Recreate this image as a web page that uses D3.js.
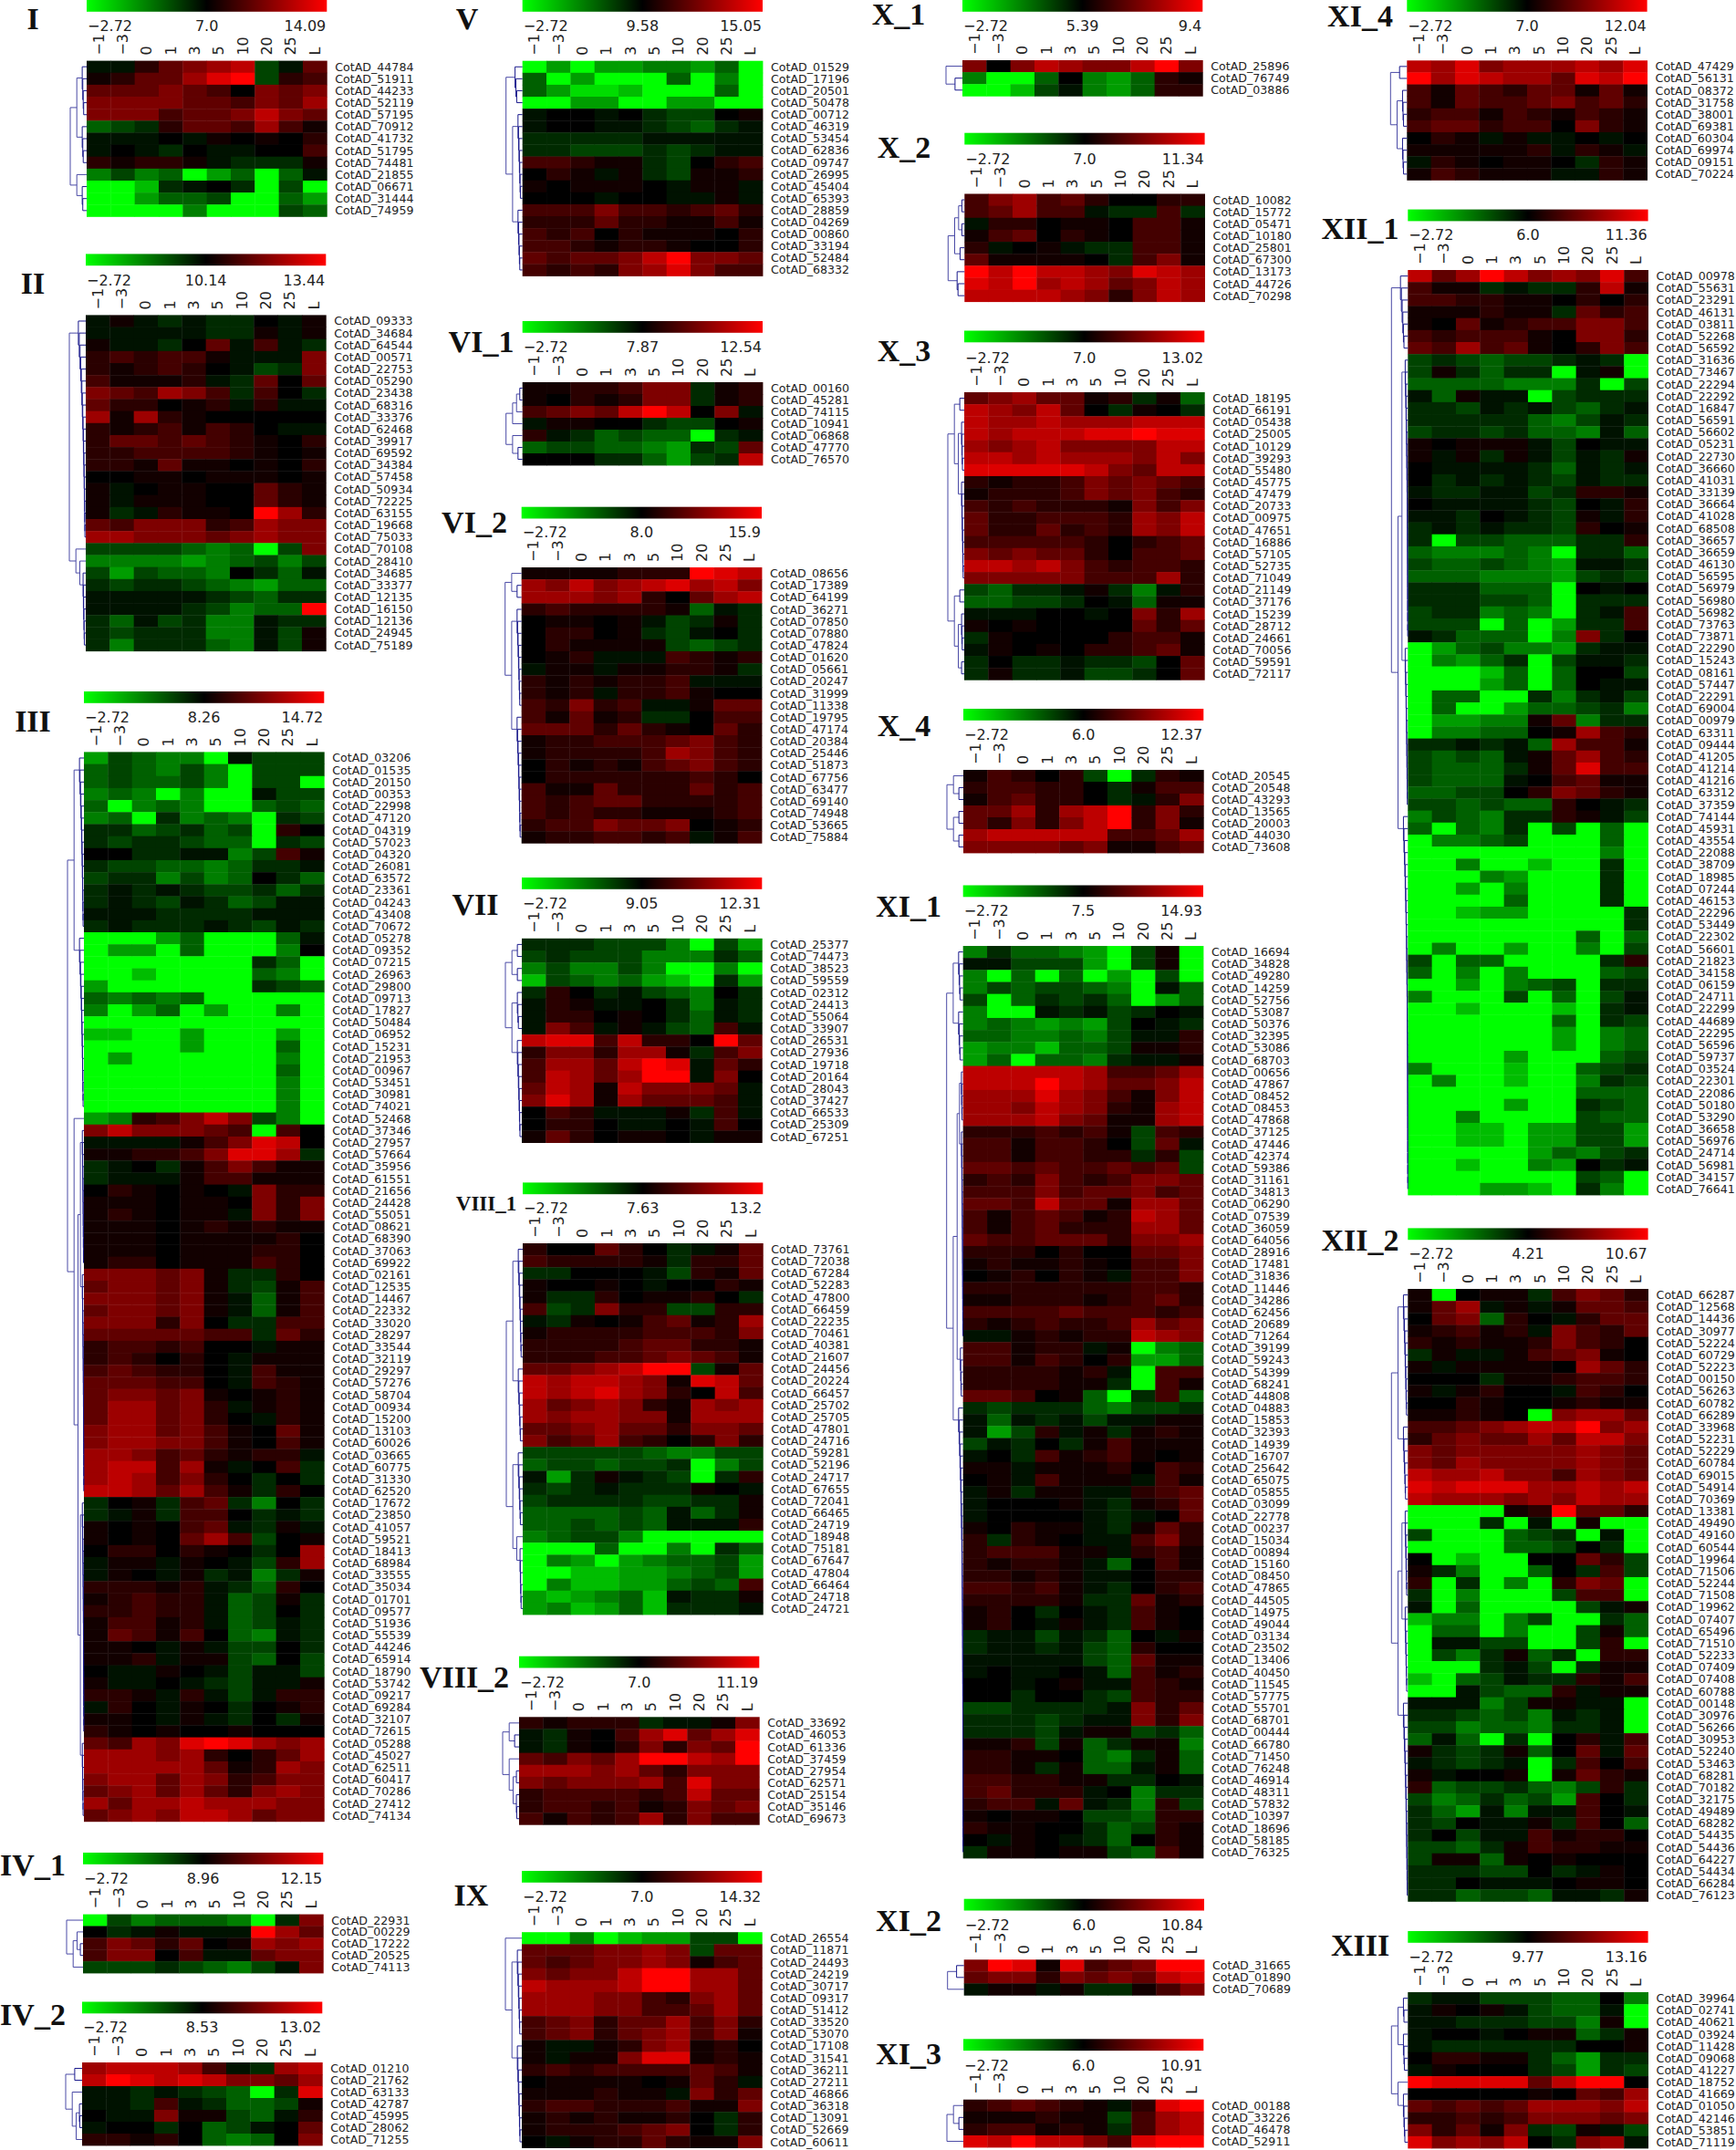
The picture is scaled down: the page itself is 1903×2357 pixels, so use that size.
<!DOCTYPE html>
<html>
<head>
<meta charset="utf-8">
<script src="https://d3js.org/d3.v7.min.js"></script>
<style>
  body { margin: 0; background: #fff; }
  text { font-family: "DejaVu Sans", sans-serif; fill: #222; }
</style>
</head>
<body>
<div id="chart-area"></div>
<script>
// one char per cell: a (bright green) .. i, 0 (black), 1 .. 9 (bright red)
const timePoints = ["\u22121", "\u22123", "0", "1", "3", "5", "10", "20", "25", "L"];
const levelChars = "abcdefghi0123456789";

const genesI = "44784 51911 44233 52119 57195 70912 41732 51795 74481 21855 06671 31444 74959".split(" ");
const valsI = "ii24567gi4 1244689g23 4445430545 5555443546 5553445754 fgh2443631 iii0i10102 i0ih0ii003 21221ihhh1 egefadfafi aachi0haga aadffgaafd aaaaeaaagf".split(" ");

const genesII = "09333 34684 64544 00571 22753 05290 23438 68316 33376 62468 39917 69592 34384 57458 50934 72225 63155 19668 75033 70108 28410 34685 33377 12135 16150 12136 24945 75189".split(" ");
const valsII = "i1ihihh0i1 iiiiihh1i1 1iih04i3ih 232331iii5 212320igh5 31112ih404 543653h30h 422012i2ii 6162100000 21231320ii 2443432102 2233332101 2214110102 0011011101 1i01100421 1i11100421 1hi2110962 4355523655 6655545655 ggggfefag5 eeeedefgeg gdgffe0hfi hghhgfedff iiiiihgfhh iiiihgeff9 hfigheeihh hghhheeig1 hehhhfeig1".split(" ");

const genesIII = "03206 01535 20150 00353 22998 47120 04319 57023 04320 26081 63572 23361 04243 43408 70672 05278 09352 07215 26963 29800 09713 17827 50484 06952 15231 21953 00967 53451 30981 74021 52468 37346 27957 57664 35956 61551 21656 24428 55051 08621 68390 37063 69922 02161 12535 14467 22332 33020 28297 33544 32119 29297 57276 58704 00934 15200 13103 60026 03665 60775 31330 62520 17672 23850 41057 59521 18413 68984 33555 35034 01701 09577 51936 55539 44246 65914 18790 53742 09217 69284 32107 72615 05288 45027 62511 60417 70286 27412 74134".split(" ");
const valsIII = "dgfeeaiggg fgfegeaggg fgffgeagga efeaeaaigg faefeaafgf efahefeahg hhfghfga20 hghhgffahg 00hhiieg31 hggffefhhi ghhegef0hf hihihgghfh hihgihfgii iiihhhhiii hihhhihgih aaadfaaafi addafaaae0 aaaaaaahfa aacaaaafea daaaaaahgf fefefaaaaa eadfadaaea aaaaaaaaaa ccaadaaada aaaadaaafa adaaaaaaea aaaaaaaafa aaaaaaaaea aaaaaaaaea aaaaaaaaea de23575gea 5755543a30 iiii135870 112235886h hi0h135311 hiii133111 021010i522 1110110525 121011i525 1110121211 1110111120 1110111220 1220111320 555451hh20 455451hg13 555451if13 455451if13 555250hh33 4444433h42 2332300i11 232020i111 343220i311 444330i321 4554510121 466452i121 4664520i21 5664531041 5665531031 665342122i 677361i03h 6763520h0h 7764631h20 h01h34he0h hi1h330hih 101034ih1i 1010463g01 0220210h06 i11i10ig26 i10i1hieh1 22212ihf20 12322ifg1h 22322ifg0h 13312ifgih 143130feih 110i1igg0h 112i11gf0g 0ii10igiig 1ii0ihgii1 221i2igi22 i20i10h012 110i1ih0h1 2101001000 4365898656 6665620246 6666641265 5664652355 4564642565 6466766655 4565776455".split(" ");

const genesIV1 = "22931 00229 17222 20525 74113".split(" ");
const valsIV1 = "agefffeah5 0hi1iii964 3542401656 35503ii455 ggghgfegi5".split(" ");

const genesIV2 = "01210 21762 63133 42787 45995 28062 71255".split(" ");
const valsIV2 = "677763ih67 7987875546 iihihgfah8 iih3ihffg1 0ii511gfi2 i00h0fgi04 22120fef05".split(" ");

const genesV = "01529 17196 20501 50478 00712 46319 53454 62836 09747 26995 45404 65393 28859 04269 00860 33194 52484 68332".split(" ");
const valsV = "adaddeedfa fadaaafaea fdbbcaaafa aaddaaddaa i00i0hgg01 i00iihgfhi hhhhhiiiii hhggghghii 33211hg023 021i1hg112 101110i11i 000i00ii1i 3335332342 2224221131 3230211102 3321221002 4344579554 3232568533".split(" ");

const genesVI1 = "00160 45281 74115 10941 06868 47770 76570".split(" ");
const valsVI1 = "1122355h12 1021255h12 345479705i i1100hgg01 2ihfgffahi fggffedhg4 000hhfdgh7".split(" ");

const genesVI2 = "08656 17389 64199 36271 07850 07880 47824 01620 05661 20247 31999 11338 19795 47174 20384 25446 51873 67756 63477 69140 74948 53665 75884".split(" ");
const valsVI2 = "1111222987 6575678675 6665620467 2322221fih 01101igh1h 02201hgi0h 021111gfgh 012iii3212 i11i11221h 2121223iii 212i223100 32523ii144 31412hh033 4442421042 1223334532 1222236532 0212134532 0222222320 3114222423 3234422223 3232211123 2335445012 1223323i13".split(" ");

const genesVII = "25377 74473 38523 59559 02312 24413 55064 33907 26531 27936 19718 20164 28043 37427 66533 25309 67251".split(" ");
const valsVII = "hhhgggeagd ghgggeeehf egeegeaaea cgfefdcahd h20higfe0h i21ii0heih i22010hfih i53i1igf3i 7883722094 2552661h35 3664798i42 3764699i50 476175554i 586164443i 032iii1h3i 0220ii0i30 1420110i11".split(" ");

const genesVIII1 = "73761 72038 67284 52283 47800 66459 22235 70461 40381 21607 24456 20224 66457 25702 25705 47801 24716 59281 52196 24717 67655 72041 66465 24719 18948 75181 67647 47804 66464 24718 24721".split(" ");
const valsVIII1 = "200420hi14 322221h224 hh000ig214 10010i0021 1hh201120h 3gh522gg22 ih10134126 1222233325 2222344221 2223345431 4456799g14 7677651874 7678652073 6456521656 6566551666 4456442554 5346320252 gggggfeegg fggfgghaeg idh1ihgah2 hghihhh10i ghhhhgghh1 ffffgfifh1 ffgfgfiii2 efggeaaaaa aaafaaeahf aedadeffgd aaccddefgd aeccddfgf3 dcdefcihh1 decdfchhhi".split(" ");

const genesVIII2 = "33692 46053 61336 37459 27954 62571 25154 35146 69673".split(" ");
const valsVIII2 = "21222hii15 ih10368468 ih10252549 4354699769 6665642555 5455563855 2333323744 2332312545 3132362533".split(" ");

const genesIX = "26554 11871 24493 24219 30717 09317 51412 33520 53070 17108 31541 36211 27211 46866 36318 13091 52669 60611".split(" ");
const valsIX = "aaeacddgga 4445565g44 4345565134 5455799664 7666799664 6665532564 6665533464 3452446352 3452456351 1ii1256120 1i11588121 2323333431 011110142i 111211i524 2332223115 12121120h2 12223450h2 0i12242115".split(" ");

const genesX1 = "25896 76749 03886".split(" ");
const valsX1 = "5057655795 eaaf0edf21 aacgiedf22".split(" ");

const genesX2 = "10082 15772 05471 10180 25801 67300 13173 44726 70298".split(" ");
const valsX2 = "3563420022 34633ihh3h i220110331 1340210331 2i01ihh331 411110h351 9797765876 8796764576 7777652576".split(" ");

const genesX3 = "18195 66191 05438 25005 10129 39293 55480 45775 47479 20733 00975 47651 16886 57105 52735 71049 21149 37176 15239 28712 24661 70056 59591 72117".split(" ");
const valsX3 = "4564412h1f 765740h10h 7667666777 7677788988 6567555577 7767666575 8888875477 2122354543 1222354532 3232221535 4223332657 4224232657 3333320234 5454420334 7767532332 5555533362 gfhhi1hei2 ffggh0if11 iii00i0526 1010000424 h100002331 i101022341 h0hhihhg04 h1hhiggh04".split(" ");

const genesX4 = "20545 20548 43293 13565 20003 44030 73608".split(" ");
const valsX4 = "13202gah21 233220h133 134220hi25 4462679252 4252579251 6777773346 5555451134".split(" ");

const genesXI1 = "16694 34828 49280 14259 52756 53087 50376 32395 53086 68703 00656 47867 08452 08453 47868 37125 47446 42374 59386 31161 34813 06290 07539 36059 64056 28916 17481 31836 11446 34286 62456 20689 71264 39199 59243 54399 68241 44808 04883 15853 32393 14939 16707 25642 65075 05855 03099 22778 00237 15034 00894 15160 08450 47865 44505 14975 49044 03134 23502 13406 40450 11545 57775 55701 68701 00444 66780 71450 76248 46914 48311 57832 10397 18696 58185 76325".split(" ");
const valsXI1 = "ehffedag1a iigggdag1a eafafadaga egfggfeaif gafhghfadf eaaihigh0i efededg0ih ffeefegii2 deecffg112 dfaffehii1 7777763346 7779764457 6668653157 6657652167 6667541167 2223231g32 3313320g4i 3313322h2g 443433434g 2325323554 3335344534 4437441664 3134312764 3134222664 4334442556 2220200445 1211210335 012021i335 2222222332 1122212342 3333433323 2123223645 ii12122765 33122i1aef 3313202ddf 222212ia33 222211ha31 44301fah3f hghhhfeggh ifihigii11 idg2i1h121 gih0h13111 i0h3123101 11i1112032 01i3111i31 i1h11ii234 i0001ih124 i0000ihi04 10211ih142 2h210ii352 233311i231 21221if031 22121ii022 33231ih023 22221hh412 120h0ih310 120i1ih310 hiigihf0i1 hiihigf200 iiiiigf411 i0ii0if312 00i01ii321 00h00hg322 gghhhhi524 hhhghii525 hhhgi11ghf 112g1fh11e 22110feh1f 221h1ffi1f 332211hh0i 34222i0ehh 233i4ihe2g 10110ggf22 21100hfg21 0i10ihf021 h11011gf31".split(" ");

const genesXI2 = "31665 01890 70689".split(" ");
const valsXI2 = "5981834599 4552545478 i11i1hh135".split(" ");

const genesXI3 = "00188 33226 46478 52911".split(" ");
const valsXI3 = "234321i289 111211g367 233121h367 8797753899".split(" ");

const genesXI4 = "47429 56131 08372 31758 38001 69381 60304 69974 09151 70224".split(" ");
const valsXI4 = "7685666768 9687664879 3143244141 3143345342 2331321321 3442330521 021i1ii0i0 111112i21i i210110h21 132111ii21".split(" ");

const genesXII1 = "00978 55631 23291 46131 03811 52268 56592 31636 73467 22294 22292 16847 56591 56602 05231 22730 36660 41031 33139 36664 41028 68508 36657 36659 46130 56595 56979 56980 56982 73763 73871 22290 15243 08161 57447 22291 69004 00979 63311 09444 41205 41214 41216 63312 37359 74144 45931 43554 22088 38709 18985 07244 46153 22296 53449 22302 56601 21823 34158 06159 24711 22299 44689 22295 56596 59737 03524 22301 22086 50180 53290 36658 56976 24714 56981 34157 76641".split(" ");
const valsXII1 = "7469756583 311hihh271 3322110202 111211h423 1041233553 3233310552 4363410253 ghgfgghiha g1hfhhai1a ffffeeehag if1iiaghhh hhgihigfhi hhhhhfegih ghhghffeif 10111ig0ii 1i1h1igih1 0iiiihfihi 0hihihgihh ihhiigh221 0iiiihg0i2 iih0ihg1i2 hihihhg201 haggfffhh2 feeefeahhf gffgfediih fffeeedghg hhhfffa0i0 hhhggfahhh ghhefeahi3 gggafadhh3 ihfffae5h0 adfgeedhii aedfhagiih aaacfaf00g aaadfaf0ii affaahehig afaadffghe addee14ehh aeeff01632 hhihif6331 gfgfi14632 gfffh14833 gfffi03411 ffgg025421 ggfgff20ih egfehh21ig fafehagafa aeefgaaafa aaaaaaaaea aaeaacaaha aaaedaaaha aadaeaaaha aaaafaaaha aacddaaaah aaaaaaaaah aaaaaaafaf aeaadaaeag gaffaaaah2 faeaeaaafg aadaefgahh eaaagafagi aacaaacahi aaaaaafahg aaaaaadaef aaaaaadaef aaaadaaafg eaaacaafgh aeaacaaehg aaaaaaafff aaaadaahgf aaeaaaagff aaccaddggd aaccaddggd aaaaadfegh aacaaed0hi aaaaaaagfa aaaddcahea".split(" ");

const genesXII2 = "66287 12568 14436 30977 52224 60729 52223 00150 56263 60782 66289 33968 52231 52229 60784 69015 54914 70369 13381 49490 49160 60544 19964 71506 52244 71508 19962 07407 65496 71510 52233 07409 07408 60788 00148 30976 56266 30953 52240 53463 68281 70182 32175 49489 68282 54435 54436 64227 54434 66284 76123".split(" ");
const valsXII2 = "1a011h3542 146i1i1443 045f20i244 12312i5324 2121125320 h1ii134510 1i11110642 000h112332 1i1200i320 0021001211 11210a5664 3345677956 2454464775 5455555654 5465555654 7667553654 8788866767 7666565766 aaaa129442 aaahaia1aa gaaafghaia aaaaffg0ha 0acaa0042g 1heaaf0h3g 2ahaea254a haeaaag33a iafaaaagi1 ceeaegaahf affaeaag1f aiiggaag2a ageh1fha22 aaahigah11 cafgihh213 aaigff2i11 iiieg11iia hhgfgeihia ggeffehhia fifaha02i3 1hgh1f04i4 ihghiah303 1i001a1421 2fgghfeg2h gefhfgd30h hfdieii30i hg0ii1h30f h0gii31220 ggfh132211 g11f101000 hhhgg0hi10 hh0iii0110 hhfggfiih1".split(" ");

const genesXIII = "39964 02741 40621 03924 11428 09068 41227 18752 41669 01050 42146 53851 71119".split(" ");
const valsXIII = "hiigggff0e i101igffia iihhhgge1a i00i011fh1 ihhhhhh001 02211hfdhh i1000hgdhg 9888847990 0000010436 4343466657 2232355545 52415hg1ig 856570h56i".split(" ");

// tree = row clustering as nested groups, a number is a tight run of that many rows
const panels = [
  { name: "I", genes: genesI, vals: valsI, low: "\u22122.72", mid: "7.0", high: "14.09", x: 95, barY: 0, tickY: 28, top: 66.6, bottom: 237.4, titleX: 36, titleY: 20, tree: [[5, 4], [1, 3]] },
  { name: "II", genes: genesII, vals: valsII, low: "\u22122.72", mid: "10.14", high: "13.44", x: 94, barY: 278.4, tickY: 307, top: 345.4, bottom: 713.7, titleX: 36, titleY: 310, tree: [19, [1, [1, 7]]] },
  { name: "III", genes: genesIII, vals: valsIII, low: "\u22122.72", mid: "8.26", high: "14.72", x: 92, barY: 758, tickY: 786, top: 824.4, bottom: 1996.8, titleX: 36, titleY: 790, tree: [[15, 15], [1, [[12, 19], [20, 7]]]] },
  { name: "IV_1", genes: genesIV1, vals: valsIV1, low: "\u22122.72", mid: "8.96", high: "12.15", x: 91, barY: 2031, tickY: 2059.5, top: 2098.6, bottom: 2163, titleX: 36, titleY: 2044, tree: [1, [[1, 2], 1]] },
  { name: "IV_2", genes: genesIV2, vals: valsIV2, low: "\u22122.72", mid: "8.53", high: "13.02", x: 90, barY: 2194.5, tickY: 2222.5, top: 2261, bottom: 2352, titleX: 36, titleY: 2208, tree: [2, [1, [3, 1]]] },
  { name: "V", genes: genesV, vals: valsV, low: "\u22122.72", mid: "9.58", high: "15.05", x: 572.7, barY: 0, tickY: 28, top: 66.7, bottom: 302.5, titleX: 512, titleY: 20, tree: [4, [8, 6]] },
  { name: "VI_1", genes: genesVI1, vals: valsVI1, low: "\u22122.72", mid: "7.87", high: "12.54", x: 572.7, barY: 352, tickY: 380.6, top: 419, bottom: 510, titleX: 527.5, titleY: 374, tree: [[[2, 1], 1], [1, 2]] },
  { name: "VI_2", genes: genesVI2, vals: valsVI2, low: "\u22122.72", mid: "8.0", high: "15.9", x: 571.7, barY: 555.7, tickY: 583.6, top: 622, bottom: 924.3, titleX: 520, titleY: 572, tree: [[1, 2], [9, 11]] },
  { name: "VII", genes: genesVII, vals: valsVII, low: "\u22122.72", mid: "9.05", high: "12.31", x: 572, barY: 962, tickY: 990.4, top: 1028.8, bottom: 1252.6, titleX: 521, titleY: 991, tree: [[2, 2], [4, 9]] },
  { name: "VIII_1", genes: genesVIII1, vals: valsVIII1, low: "\u22122.72", mid: "7.63", high: "13.2", x: 573, barY: 1296.4, tickY: 1324.8, top: 1363, bottom: 1770, titleX: 533, titleY: 1319, titleSize: 23, tree: [[10, 7], [7, [1, 6]]] },
  { name: "VIII_2", genes: genesVIII2, vals: valsVIII2, low: "\u22122.72", mid: "7.0", high: "11.19", x: 569, barY: 1815.7, tickY: 1844.7, top: 1882.3, bottom: 2000.3, titleX: 509, titleY: 1838.6, tree: [[1, 2], [1, [2, 3]]] },
  { name: "IX", genes: genesIX, vals: valsIX, low: "\u22122.72", mid: "7.0", high: "14.32", x: 572, barY: 2051, tickY: 2079.6, top: 2118.2, bottom: 2354.6, titleX: 516.5, titleY: 2077.5, tree: [1, [8, 9]] },
  { name: "X_1", genes: genesX1, vals: valsX1, low: "\u22122.72", mid: "5.39", high: "9.4", x: 1055, barY: 0, tickY: 28, top: 66, bottom: 105.3, titleX: 985, titleY: 15, tree: [1, 2] },
  { name: "X_2", genes: genesX2, vals: valsX2, low: "\u22122.72", mid: "7.0", high: "11.34", x: 1057.3, barY: 145.7, tickY: 174.5, top: 212.5, bottom: 330.7, titleX: 991, titleY: 161, tree: [[[2, 2], 2], 3] },
  { name: "X_3", genes: genesX3, vals: valsX3, low: "\u22122.72", mid: "7.0", high: "13.02", x: 1057, barY: 362.5, tickY: 392, top: 430, bottom: 745.3, titleX: 991, titleY: 384.6, tree: [[2, [5, 9]], [2, [4, 2]]] },
  { name: "X_4", genes: genesX4, vals: valsX4, low: "\u22122.72", mid: "6.0", high: "12.37", x: 1056, barY: 777, tickY: 805, top: 844, bottom: 935, titleX: 991, titleY: 795, tree: [[1, 2], [2, 2]] },
  { name: "XI_1", genes: genesXI1, vals: valsXI1, low: "\u22122.72", mid: "7.5", high: "14.93", x: 1055.7, barY: 970.5, tickY: 998.6, top: 1037, bottom: 2037, titleX: 996, titleY: 993, tree: [[5, 5], [[[5, 18], 5], 38]] },
  { name: "XI_2", genes: genesXI2, vals: valsXI2, low: "\u22122.72", mid: "6.0", high: "10.84", x: 1056.7, barY: 2081.7, tickY: 2110, top: 2148.3, bottom: 2187.3, titleX: 996, titleY: 2105, tree: [2, 1] },
  { name: "XI_3", genes: genesXI3, vals: valsXI3, low: "\u22122.72", mid: "6.0", high: "10.91", x: 1056, barY: 2235.3, tickY: 2264, top: 2301.7, bottom: 2354, titleX: 996, titleY: 2251.7, tree: [[1, 2], 1] },
  { name: "XI_4", genes: genesXI4, vals: valsXI4, low: "\u22122.72", mid: "7.0", high: "12.04", x: 1542.3, barY: 0, tickY: 28, top: 66.3, bottom: 197.4, titleX: 1491, titleY: 17, tree: [2, [4, 4]] },
  { name: "XII_1", genes: genesXII1, vals: valsXII1, low: "\u22122.72", mid: "6.0", high: "11.36", x: 1543.3, barY: 229.6, tickY: 257.6, top: 296, bottom: 1310, titleX: 1491, titleY: 250, tree: [7, [[24, 14], 32]] },
  { name: "XII_2", genes: genesXII2, vals: valsXII2, low: "\u22122.72", mid: "4.21", high: "10.67", x: 1543.3, barY: 1346.4, tickY: 1374.5, top: 1413, bottom: 2084.4, titleX: 1491, titleY: 1359, tree: [[11, 7], [[8, 8], 17]] },
  { name: "XIII", genes: genesXIII, vals: valsXIII, low: "\u22122.72", mid: "9.77", high: "13.16", x: 1543.3, barY: 2117, tickY: 2145.3, top: 2184, bottom: 2355, titleX: 1491, titleY: 2132, tree: [[3, 4], [1, 5]] }
];

let svgW = 1903;
let svgH = 2357;
let heatW = 263.3;
let barH = 12.8;
let treeW = 18;

let svg = d3.select("#chart-area")
  .append("svg")
  .attr("width", svgW)
  .attr("height", svgH)
  .style("display", "block");

const barColor = d3.scaleLinear()
  .domain([-9, 0, 9])
  .range(["#00ff00", "#000000", "#ff0000"]);

// cells read a bit darker than the bar at low levels
const intensity = d3.scalePow()
  .exponent(1.2)
  .domain([0, 9])
  .range([0, 255]);

const color = (level) => level < 0
  ? d3.rgb(0, intensity(-level), 0)
  : d3.rgb(intensity(level), 0, 0);

// colour bar gradient shared by every panel
let grad = svg.append("defs").append("linearGradient")
  .attr("id", "bar-grad");
grad.selectAll("stop")
  .data(d3.range(-9, 10, 3))
  .enter()
  .append("stop")
  .attr("offset", d => (d + 9) / 18)
  .attr("stop-color", d => barColor(d));

// number -> run of rows, array -> group
const expand = (spec) => {
  if (typeof spec === "number") {
    if (spec === 1) return { leaf: true };
    return { run: true, children: [{ leaf: true }, expand(spec - 1)] };
  }
  return { children: spec.map(expand) };
}

const drawTree = (g, p, y) => {
  let root = d3.hierarchy(expand(p.tree));
  let leaves = root.leaves();
  leaves.forEach((l, i) => { l.rowY = y(i) + y.bandwidth() / 2; });

  root.eachBefore(n => {
    if (!n.parent) n.dist = 1;
    else if (n.data.leaf) n.dist = 0;
    else if (n.data.run) n.dist = n.parent.data.run ? n.parent.dist * 0.88 : n.parent.dist * 0.45;
    else n.dist = n.parent.dist * 0.6;
  });
  root.eachAfter(n => {
    n.rowY = n.children ? (n.children[0].rowY + n.children[n.children.length - 1].rowY) / 2 : n.rowY;
  });

  const dx = d3.scaleLinear().domain([0, 1]).range([0, -treeW]);

  g.selectAll("path.link")
    .data(root.descendants().filter(n => n.children))
    .enter()
    .append("path")
    .attr("class", "link")
    .attr("fill", "none")
    .attr("stroke", d => d.data.run ? "#1a1a8c" : "#4a4aa6")
    .attr("stroke-width", 1)
    .attr("d", d => {
      let path = d3.path();
      d.children.forEach(c => {
        path.moveTo(dx(d.dist), c.rowY);
        path.lineTo(dx(c.dist), c.rowY);
      });
      path.moveTo(dx(d.dist), d.children[0].rowY);
      path.lineTo(dx(d.dist), d.children[d.children.length - 1].rowY);
      return path.toString();
    });
}

const drawPanel = (p) => {
  let cells = [];
  p.vals.forEach((row, r) => {
    row.split("").forEach((c, k) => {
      cells.push({ row: r, col: timePoints[k], level: levelChars.indexOf(c) - 9 });
    });
  });

  let x = d3.scaleBand().domain(timePoints).range([0, heatW]);
  let y = d3.scaleBand().domain(d3.range(p.genes.length)).range([0, p.bottom - p.top]);

  svg.append("text")
    .attr("x", p.titleX)
    .attr("y", p.titleY)
    .attr("text-anchor", "middle")
    .attr("dominant-baseline", "central")
    .style("font-family", "'Liberation Serif', serif")
    .style("font-weight", "bold")
    .style("font-size", (p.titleSize || 34) + "px")
    .style("fill", "#111")
    .text(p.name);

  svg.append("rect")
    .attr("x", p.x)
    .attr("y", p.barY)
    .attr("width", heatW)
    .attr("height", barH)
    .attr("fill", "url(#bar-grad)");

  [[p.low, 1, "start"], [p.mid, heatW / 2, "middle"], [p.high, heatW - 1, "end"]].forEach(t => {
    svg.append("text")
      .attr("x", p.x + t[1])
      .attr("y", p.tickY)
      .attr("text-anchor", t[2])
      .attr("dominant-baseline", "central")
      .style("font-size", "16px")
      .text(t[0]);
  });

  let group = svg.append("g")
    .attr("transform", `translate(${p.x},${p.top})`);

  group.selectAll("text.col")
    .data(timePoints)
    .enter()
    .append("text")
    .attr("class", "col")
    .attr("transform", d => `translate(${x(d) + x.bandwidth() / 2},-6) rotate(-90)`)
    .attr("dominant-baseline", "central")
    .style("font-size", "16px")
    .text(d => d);

  group.selectAll("rect.cell")
    .data(cells)
    .enter()
    .append("rect")
    .attr("class", "cell")
    .attr("x", d => x(d.col))
    .attr("y", d => y(d.row))
    .attr("width", x.bandwidth() + 0.4)
    .attr("height", y.bandwidth() + 0.4)
    .attr("fill", d => color(d.level));

  group.selectAll("text.gene")
    .data(p.genes)
    .enter()
    .append("text")
    .attr("class", "gene")
    .attr("x", heatW + 9)
    .attr("y", (d, i) => y(i) + y.bandwidth() / 2)
    .attr("dominant-baseline", "central")
    .style("font-size", "12.6px")
    .text(d => "CotAD_" + d);

  drawTree(group, p, y);
}

panels.forEach(drawPanel);
</script>
</body>
</html>
